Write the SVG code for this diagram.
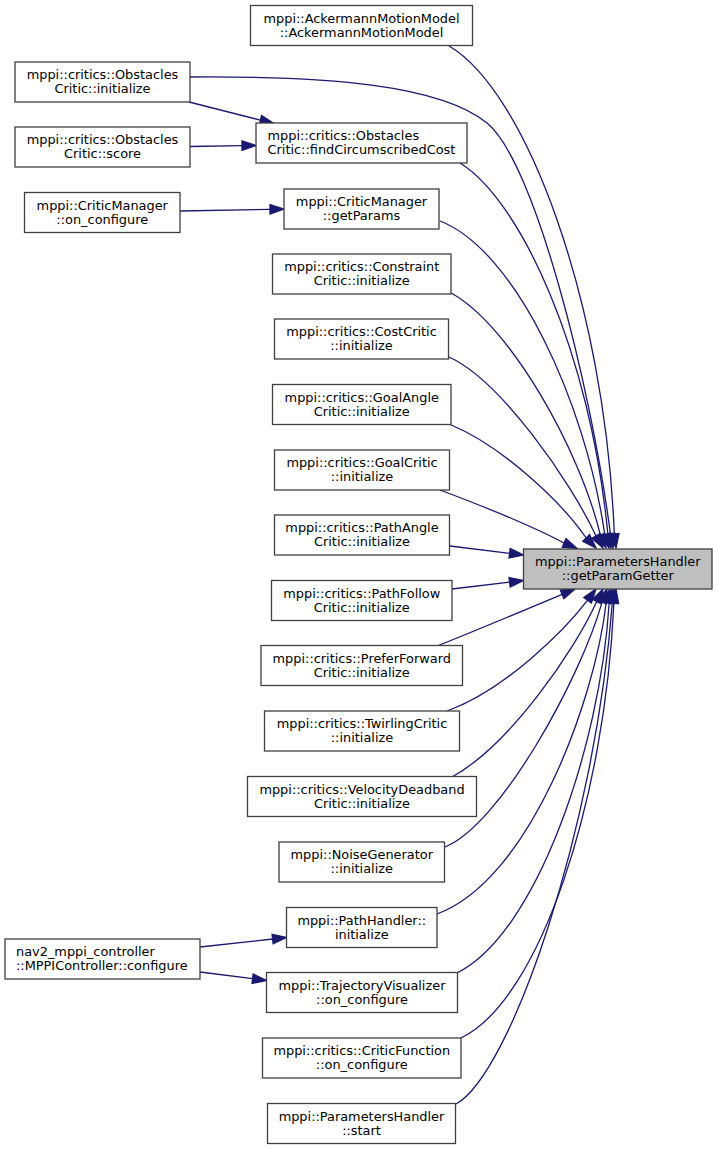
<svg xmlns="http://www.w3.org/2000/svg" width="717" height="1149" viewBox="0 0 717 1149">
<style>
.bg{fill:#ffffff}
.node rect{fill:#ffffff;stroke:#404040;stroke-width:1.3}
.node.hl rect{fill:#bfbfbf}
.node text{font-family:"DejaVu Sans","Liberation Sans",sans-serif;font-size:12.9px;fill:#000000;text-anchor:middle}
.node text.l{text-anchor:start}
.edges path{fill:none;stroke:#191970;stroke-width:1.3}
.edges polygon{fill:#191970;stroke:#191970;stroke-width:1.3}
</style>
<rect class="bg" x="0" y="0" width="717" height="1149"/>
<g id="edges" class="edges">
<!-- Ackermann -> target -->
<path d="M449,46 C525,90 605,300 614.3,534.1"/>
<polygon points="609.6,534.7 619,533.5 616,548"/>
<!-- ObstaclesCritic::initialize -> target -->
<path d="M190,77 C330,76 440,85 487,123 C534,161 590,380 610.5,534.2"/>
<polygon points="605.9,535.1 615.1,533.4 613,548"/>
<!-- ObstaclesCritic::initialize -> findCircumscribedCost -->
<path d="M189,102 L260.4,120.1"/>
<polygon points="261.6,115.5 259.3,124.6 274,123.5"/>
<!-- ObstaclesCritic::score -> findCircumscribedCost -->
<path d="M190,146.5 L242,145.7"/>
<polygon points="242,141 242,150.4 256,145.5"/>
<!-- findCircumscribedCost -> target -->
<path d="M460,163 C520,200 590,350 607.9,534.3"/>
<polygon points="603.3,535.3 612.5,533.3 611,548"/>
<!-- CriticManager::on_configure -> getParams -->
<path d="M180,211 L270,209.3"/>
<polygon points="270,204.6 270,214 284,209"/>
<!-- getParams -> target -->
<path d="M440,221 C515,250 585,400 604.8,534.6"/>
<polygon points="600.3,536 609.3,533.2 609,548"/>
<!-- Constraint -> target -->
<path d="M451,293 C510,325 580,450 600.4,535.2"/>
<polygon points="596.1,537.1 604.7,533.3 606,548"/>
<!-- CostCritic -> target -->
<path d="M449,357 C500,380 570,480 596,535.9"/>
<polygon points="591.9,538.3 600.1,533.6 603,548"/>
<!-- GoalAngle -> target -->
<path d="M451,425 C500,445 560,500 586.2,538"/>
<polygon points="582.8,541.3 589.6,534.7 596,548"/>
<!-- GoalCritic -> target -->
<path d="M440,490 C480,505 530,525 564.1,543"/>
<polygon points="562.3,547.3 566,538.7 577,548.5"/>
<!-- PathAngle -> target -->
<path d="M450,546 L509.6,553.3"/>
<polygon points="510.2,548.6 509,558 523.5,555"/>
<!-- PathFollow -> target -->
<path d="M452,589 L509.6,582.2"/>
<polygon points="509,577.5 510.2,586.9 523.5,580.5"/>
<!-- PreferForward -> target -->
<path d="M437,646 C470,633 520,612 562.1,594.3"/>
<polygon points="560.3,590 563.9,598.6 575,589"/>
<!-- Twirling -> target -->
<path d="M447,711 C505,690 565,630 587.6,600.2"/>
<polygon points="591.4,603 583.8,597.4 596,589"/>
<!-- VelocityDeadband -> target -->
<path d="M452,777 C510,745 575,650 596.7,601.5"/>
<polygon points="600.9,603.6 592.5,599.4 603,589"/>
<!-- NoiseGenerator -> target -->
<path d="M445,847 C500,825 580,680 602.1,602.1"/>
<polygon points="606.5,603.8 597.7,600.5 607,589"/>
<!-- PathHandler -> target -->
<path d="M437,914 C530,880 595,700 606.2,602.5"/>
<polygon points="610.7,603.8 601.7,601.2 610,589"/>
<!-- MPPIController::configure -> PathHandler -->
<path d="M200,947 L272.6,939"/>
<polygon points="272.1,934.4 273.1,943.7 286.5,937.5"/>
<!-- MPPIController::configure -> TrajectoryVisualizer -->
<path d="M200,972 L252.6,978.7"/>
<polygon points="253.2,974.1 252,983.4 266.5,980.5"/>
<!-- TrajectoryVisualizer -> target -->
<path d="M457,973 C535,935 600,750 609.2,602.7"/>
<polygon points="613.8,603.6 604.6,601.8 612,589"/>
<!-- CriticFunction -> target -->
<path d="M461,1038 C540,1000 605,800 613.9,602.8"/>
<polygon points="618.6,603.5 609.3,602.1 616,589"/>
<!-- ParametersHandler::start -> target -->
<path d="M456,1104 C510,1075 595,830 612.3,602.9"/>
<polygon points="617,603.5 607.6,602.3 614,589"/>
</g>
<g id="n_target" class="node hl"><rect x="523.5" y="549" width="188.5" height="40"/><text x="617.75" y="566">mppi::ParametersHandler</text><text x="617.75" y="580">::getParamGetter</text></g>
<g id="n_ack" class="node"><rect x="250.5" y="5.5" width="222" height="40"/><text x="361.5" y="22.5">mppi::AckermannMotionModel</text><text x="361.5" y="36.5">::AckermannMotionModel</text></g>
<g id="n_obsinit" class="node"><rect x="15" y="62" width="175" height="40"/><text x="102.5" y="79">mppi::critics::Obstacles</text><text x="102.5" y="93">Critic::initialize</text></g>
<g id="n_obsscore" class="node"><rect x="15" y="127" width="175" height="40"/><text x="102.5" y="144">mppi::critics::Obstacles</text><text x="102.5" y="158">Critic::score</text></g>
<g id="n_findcirc" class="node"><rect x="256" y="123" width="211" height="40"/><text class="l" x="267.5" y="140">mppi::critics::Obstacles</text><text class="l" x="267.5" y="154">Critic::findCircumscribedCost</text></g>
<g id="n_cmconf" class="node"><rect x="24.5" y="192.5" width="155.5" height="40"/><text x="102.25" y="209.5">mppi::CriticManager</text><text x="102.25" y="223.5">::on_configure</text></g>
<g id="n_getparams" class="node"><rect x="284" y="189" width="155" height="40"/><text x="361.5" y="206">mppi::CriticManager</text><text x="361.5" y="220">::getParams</text></g>
<g id="n_constraint" class="node"><rect x="272.5" y="254" width="178.5" height="40"/><text x="361.75" y="271">mppi::critics::Constraint</text><text x="361.75" y="285">Critic::initialize</text></g>
<g id="n_cost" class="node"><rect x="274.5" y="319" width="174" height="40"/><text x="361.5" y="336">mppi::critics::CostCritic</text><text x="361.5" y="350">::initialize</text></g>
<g id="n_goalangle" class="node"><rect x="272.5" y="384.5" width="178.5" height="40"/><text x="361.75" y="401.5">mppi::critics::GoalAngle</text><text x="361.75" y="415.5">Critic::initialize</text></g>
<g id="n_goal" class="node"><rect x="274.5" y="450" width="175" height="40"/><text x="362" y="467">mppi::critics::GoalCritic</text><text x="362" y="481">::initialize</text></g>
<g id="n_pathangle" class="node"><rect x="274.5" y="515" width="175" height="40"/><text x="362" y="532">mppi::critics::PathAngle</text><text x="362" y="546">Critic::initialize</text></g>
<g id="n_pathfollow" class="node"><rect x="271.5" y="580.5" width="180.5" height="40"/><text x="361.75" y="597.5">mppi::critics::PathFollow</text><text x="361.75" y="611.5">Critic::initialize</text></g>
<g id="n_prefer" class="node"><rect x="261" y="645.5" width="201.5" height="40"/><text x="361.75" y="662.5">mppi::critics::PreferForward</text><text x="361.75" y="676.5">Critic::initialize</text></g>
<g id="n_twirl" class="node"><rect x="264.5" y="711" width="195" height="40"/><text x="362" y="728">mppi::critics::TwirlingCritic</text><text x="362" y="742">::initialize</text></g>
<g id="n_velocity" class="node"><rect x="247.5" y="776.5" width="229" height="40"/><text x="362" y="793.5">mppi::critics::VelocityDeadband</text><text x="362" y="807.5">Critic::initialize</text></g>
<g id="n_noise" class="node"><rect x="279" y="842" width="165.5" height="40"/><text x="361.75" y="859">mppi::NoiseGenerator</text><text x="361.75" y="873">::initialize</text></g>
<g id="n_pathhandler" class="node"><rect x="286.5" y="907.5" width="150.5" height="40"/><text x="361.75" y="924.5">mppi::PathHandler::</text><text x="361.75" y="938.5">initialize</text></g>
<g id="n_mppi" class="node"><rect x="5" y="939" width="195" height="40"/><text class="l" x="16" y="956">nav2_mppi_controller</text><text class="l" x="16" y="970">::MPPIController::configure</text></g>
<g id="n_traj" class="node"><rect x="266.5" y="972.5" width="191" height="40"/><text x="362" y="989.5">mppi::TrajectoryVisualizer</text><text x="362" y="1003.5">::on_configure</text></g>
<g id="n_criticfn" class="node"><rect x="262.5" y="1038" width="198.5" height="40"/><text x="361.75" y="1055">mppi::critics::CriticFunction</text><text x="361.75" y="1069">::on_configure</text></g>
<g id="n_start" class="node"><rect x="267.5" y="1103.5" width="188" height="40"/><text x="361.5" y="1120.5">mppi::ParametersHandler</text><text x="361.5" y="1134.5">::start</text></g>
</svg>
